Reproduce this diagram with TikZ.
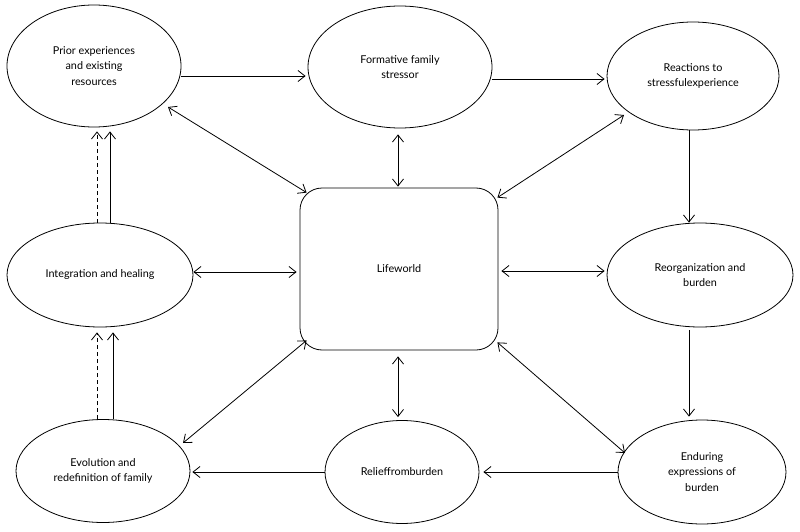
\documentclass[tikz,border=0pt]{standalone}
\usepackage{fontspec}
\setmainfont{Lato}
\usetikzlibrary{shapes.geometric,arrows.meta,calc}
\begin{document}
\begin{tikzpicture}[x=1pt,y=-1pt,
  ell/.style={draw,ellipse,line width=0.8pt,inner sep=0pt,align=center,font=\fontsize{10.8}{15.5}\selectfont},
  tipx/.tip={Straight Barb[length=7pt,width=11pt]},
  arr/.style={-tipx,line width=0.8pt},
  darr/.style={tipx-tipx,line width=0.8pt},
  dsh/.style={dash pattern=on 4pt off 3pt}]
\useasboundingbox[fill=white] (0,0) rectangle (800,532);
\node[ell,minimum width=174pt,minimum height=122pt] (prior) at (94,66) {Prior experiences\\and existing\\resources};
\node[ell,minimum width=184pt,minimum height=122pt] (form) at (400,67) {Formative family\\stressor};
\node[ell,minimum width=172pt,minimum height=108pt] (react) at (693,76) {Reactions to\\stressfulexperience};
\node[ell,minimum width=186pt,minimum height=104pt] (integ) at (100,275) {Integration and healing};
\node[draw,line width=0.8pt,rounded corners=22pt,minimum width=198pt,minimum height=162pt,font=\fontsize{10.8}{15.5}\selectfont] (life) at (399,269) {Lifeworld};
\node[ell,minimum width=186pt,minimum height=104pt] (reorg) at (700,275) {Reorganization and\\burden};
\node[ell,minimum width=174pt,minimum height=103pt] (evol) at (103,471) {Evolution and\\redefinition of family};
\node[ell,minimum width=154pt,minimum height=103pt] (relief) at (402,472) {Relieffromburden};
\node[ell,minimum width=168pt,minimum height=104pt] (endur) at (702,472) {Enduring\\expressions of\\burden};
% one-way arrows
\draw[arr] ($(prior.east)+(0,10)$) -- ($(form.west)+(-2,9)$);
\draw[arr] ($(form.east)+(0,12)$) -- ($(react.west)+(-2,3)$);
\draw[arr] ($(react.south)+(-4,0)$) -- ($(reorg.north)+(-11,0)$);
\draw[arr] ($(reorg.south)+(-11,3)$) -- ($(endur.north)+(-13,-3)$);
\draw[arr] (endur.west) -- ($(relief.east)+(4,0)$);
\draw[arr] (relief.west) -- ($(evol.east)+(2,1)$);
\draw[arr] ($(evol.north)+(10,0)$) -- ($(integ.south)+(13,5)$);
\draw[arr,dsh] ($(evol.north)+(-6,0)$) -- ($(integ.south)+(-3,5)$);
\draw[arr] ($(integ.north)+(10,0)$) -- ($(prior.south)+(16,4)$);
\draw[arr,dsh] ($(integ.north)+(-3,0)$) -- ($(prior.south)+(3,4)$);
% two-way arrows
\draw[darr] ($(prior)+(74,41)$) -- ($(life.north west)+(7,5)$);
\draw[darr] ($(form.south)+(-2,6)$) -- ($(life.north)+(-1,-1)$);
\draw[darr] ($(react)+(-69,39)$) -- ($(life.north east)+(-1,10)$);
\draw[darr] ($(integ.east)+(0,-3)$) -- ($(life.west)+(-3,3)$);
\draw[darr] ($(life.east)+(3,2)$) -- ($(reorg.west)+(-2,-4)$);
\draw[darr] ($(life.south west)+(7,-10)$) -- ($(evol)+(80,-28)$);
\draw[darr] ($(life.south)+(-1,6)$) -- ($(relief.north)+(-4,-3)$);
\draw[darr] ($(life.south east)+(-1,-8)$) -- ($(endur)+(-77,-19)$);
\end{tikzpicture}
\end{document}
